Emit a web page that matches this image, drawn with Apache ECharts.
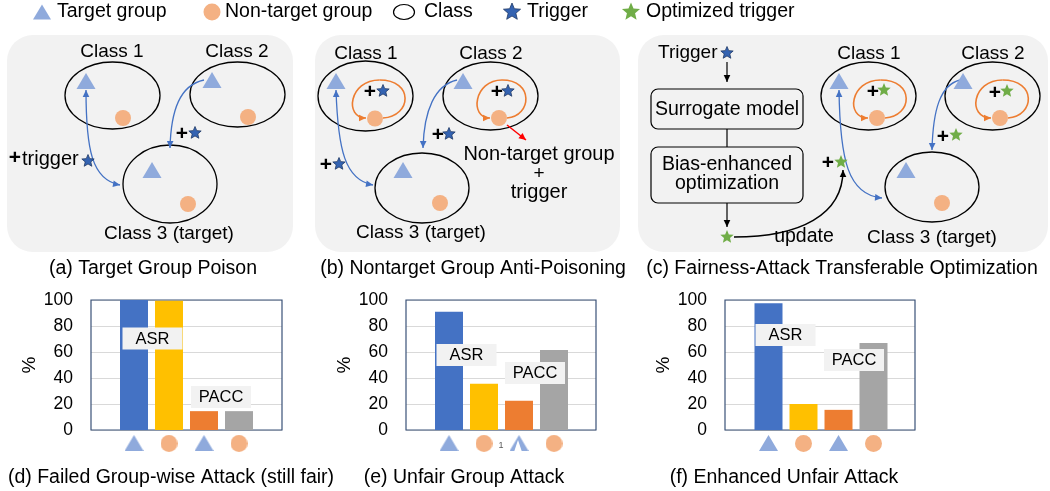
<!DOCTYPE html>
<html><head><meta charset="utf-8">
<script src="https://cdn.jsdelivr.net/npm/echarts@6/dist/echarts.min.js"></script>
<style>html,body{margin:0;padding:0;background:#fff}#c{width:1050px;height:491px}</style>
</head><body><div id="c"></div>
<script>
// ---------------- data ----------------
const categories = ['Target group ASR', 'Non-target group ASR', 'Target group PACC', 'Non-target group PACC'];
const categoryMarkers = ['triangle', 'circle', 'triangle', 'circle'];
const failedValues = [100, 99.5, 14.5, 14.5];     // (d)
const unfairValues = [91, 35.5, 22.5, 61.5];      // (e)
const enhancedValues = [97.5, 20, 15.5, 67];      // (f)
const yMin = 0, yMax = 100, yStep = 20;
const chartTitles = ['(d) Failed Group-wise Attack (still fair)', '(e) Unfair Group Attack', '(f) Enhanced Unfair Attack'];
const panelTitles = ['(a) Target Group Poison', '(b) Nontarget Group Anti-Poisoning', '(c) Fairness-Attack Transferable Optimization'];
const legendLabels = ['Target group', 'Non-target group', 'Class', 'Trigger', 'Optimized trigger'];
const groupLabels = ['ASR', 'PACC'];

// ---------------- styles ----------------
const FONT = '"Liberation Sans", Arial, sans-serif';
const barColors = ['#4472C4', '#FFC000', '#ED7D31', '#A5A5A5'];
const TRI = '#8FAADC', CIR = '#F4B183', BLUE = '#4472C4', ORANGE = '#ED7D31';
const STAR_B = '#3463B2', STAR_B_STROKE = '#1F3864', STAR_G = '#70AD47';

const G = [];
function txt(x, y, s, o = {}) {
  G.push({ type: 'text', x, y, z: o.z || 20, style: { text: s, fill: o.color || '#000', fontSize: o.size || 19,
    fontFamily: FONT, fontWeight: o.weight || 'normal', align: o.align || 'center', verticalAlign: 'middle' } });
}
function ell(cx, cy, rx, ry, lw = 1.3) {
  G.push({ type: 'ellipse', z: 10, shape: { cx, cy, rx, ry }, style: { fill: 'none', stroke: '#000', lineWidth: lw } });
}
function tri(cx, cy, w = 19, h = 16, color = TRI, z = 12) {
  G.push({ type: 'polygon', z, shape: { points: [[cx, cy - h / 2], [cx + w / 2, cy + h / 2], [cx - w / 2, cy + h / 2]] }, style: { fill: color } });
}
function dot(cx, cy, r = 8, color = CIR) {
  G.push({ type: 'circle', z: 12, shape: { cx, cy, r }, style: { fill: color } });
}
function star(cx, cy, R, fill, stroke) {
  const pts = [];
  for (let i = 0; i < 10; i++) {
    const r = i % 2 === 0 ? R : R * 0.45;
    const a = -Math.PI / 2 + i * Math.PI / 5;
    pts.push([cx + r * Math.cos(a), cy + r * Math.sin(a)]);
  }
  G.push({ type: 'polygon', z: 14, shape: { points: pts }, style: { fill, stroke: stroke || null, lineWidth: stroke ? 0.8 : 0 } });
}
function head(x, y, fx, fy, color, len = 7, wid = 3.3) {
  const a = Math.atan2(y - fy, x - fx);
  const bx = x - len * Math.cos(a), by = y - len * Math.sin(a);
  const px = -Math.sin(a) * wid, py = Math.cos(a) * wid;
  G.push({ type: 'polygon', z: 13, shape: { points: [[x, y], [bx + px, by + py], [bx - px, by - py]] }, style: { fill: color } });
}
function curve(x1, y1, c1x, c1y, c2x, c2y, x2, y2, color, lw = 1.3, heads = 'end') {
  G.push({ type: 'bezierCurve', z: 11, shape: { x1, y1, cpx1: c1x, cpy1: c1y, cpx2: c2x, cpy2: c2y, x2, y2 },
    style: { fill: 'none', stroke: color, lineWidth: lw } });
  if (heads === 'end' || heads === 'both') head(x2, y2, c2x, c2y, color);
  if (heads === 'start' || heads === 'both') head(x1, y1, c1x, c1y, color);
}
function line(x1, y1, x2, y2, color = '#000', lw = 1.3, arrow = false) {
  G.push({ type: 'line', z: 11, shape: { x1, y1, x2, y2 }, style: { stroke: color, lineWidth: lw } });
  if (arrow) head(x2, y2, x1, y1, color, 7, 3.3);
}
function loop(circleX, left, right, top = 80, y = 118) {
  const mid = (left + right) / 2;
  curve(circleX + 8, y, right + 5, y - 2, right + 7, top, mid, top, ORANGE, 1.6, 'none');
  curve(mid, top, left - 3, top, left - 8, y, circleX - 9, y, ORANGE, 1.6, 'end');
}
function plusStar(px, py, sx, sy, green) {
  txt(px, py, '+', { size: 21, weight: 'bold' });
  if (green) star(sx, sy, 7, STAR_G); else star(sx, sy, 6.5, STAR_B, STAR_B_STROKE);
}
function panel(x, y, w, h) {
  G.push({ type: 'rect', z: 1, shape: { x, y, width: w, height: h, r: 26 }, style: { fill: '#F2F2F2' } });
}

// ---------------- legend ----------------
tri(42, 12, 18, 15);
txt(57, 12, legendLabels[0], { align: 'left', size: 19.5 });
dot(212, 12, 8.5);
txt(225, 12, legendLabels[1], { align: 'left', size: 19.5 });
ell(404, 12, 10.5, 7.5, 1.2);
txt(424, 12, legendLabels[2], { align: 'left', size: 19.5 });
star(512, 12, 9, STAR_B, STAR_B_STROKE);
txt(527, 12, legendLabels[3], { align: 'left', size: 19.5 });
star(631, 12, 9.5, STAR_G);
txt(646, 12, legendLabels[4], { align: 'left', size: 19.5 });

// ---------------- panel (a) ----------------
panel(7, 35, 286, 217);
txt(112, 52, 'Class 1'); txt(237, 52, 'Class 2'); txt(169, 234, 'Class 3 (target)');
ell(112.5, 95.5, 47.5, 33.5); ell(237.5, 94.5, 47.5, 32.5); ell(170, 184, 47, 39);
tri(86, 81); tri(212, 80); tri(152, 170);
dot(123, 118); dot(248, 117); dot(188, 204);
curve(86, 90, 86, 150, 92, 180, 120, 185, BLUE, 1.3, 'both');
curve(204, 80, 180, 85, 171, 110, 170, 148, BLUE, 1.3, 'end');
txt(15, 158, '+', { size: 21, weight: 'bold' });
txt(22, 159, 'trigger', { align: 'left', size: 20 });
star(88, 161, 6.5, STAR_B, STAR_B_STROKE);
plusStar(182, 134, 195, 133, false);

// ---------------- panel (b) ----------------
panel(315, 35, 305, 217);
txt(366, 54, 'Class 1'); txt(491, 54, 'Class 2'); txt(421, 233, 'Class 3 (target)');
ell(365.5, 96, 47.5, 35); ell(490.5, 96, 47.5, 34); ell(422, 188, 47, 35);
tri(336, 81); tri(463, 81); tri(403, 170);
dot(375, 118.5); dot(499, 118); dot(440, 203);
loop(375, 352, 407); loop(499, 477, 527);
plusStar(370, 92, 383, 91, false); plusStar(497, 92, 508, 91, false);
line(507, 125, 526, 140, '#FF0000', 1.5, true);
txt(539, 154, 'Non-target group', { size: 20 }); txt(539, 174, '+'); txt(539, 192, 'trigger', { size: 20 });
curve(336, 90, 338, 150, 345, 180, 373, 185, BLUE, 1.3, 'both');
curve(457, 80, 435, 85, 424, 110, 423, 148, BLUE, 1.3, 'end');
plusStar(326, 165, 339, 164, false); plusStar(438, 135, 449, 134, false);

// ---------------- panel (c) ----------------
panel(638, 35, 410, 217);
txt(658, 53, 'Trigger', { align: 'left' }); star(727, 53, 6.5, STAR_B, STAR_B_STROKE);
line(727, 62, 727, 82, '#000', 1.2, true);
G.push({ type: 'rect', z: 10, shape: { x: 651, y: 89, width: 152, height: 40, r: 7 }, style: { fill: 'none', stroke: '#000', lineWidth: 1.2 } });
txt(727, 110, 'Surrogate model', { size: 19.5 });
line(727, 129, 727, 147, '#000', 1.2);
G.push({ type: 'rect', z: 10, shape: { x: 651, y: 147, width: 152, height: 56, r: 7 }, style: { fill: 'none', stroke: '#000', lineWidth: 1.2 } });
txt(727, 165, 'Bias-enhanced', { size: 19.5 }); txt(727, 184, 'optimization', { size: 19.5 });
line(727, 203, 727, 227, '#000', 1.2, true);
star(727, 237, 7, STAR_G);
curve(734, 237, 800, 237, 843, 215, 843, 170, '#000', 1.5, 'end');
txt(804, 237, 'update', { size: 19.5 });
plusStar(828, 163, 841, 162, true);
txt(869, 54, 'Class 1'); txt(993, 54, 'Class 2'); txt(932, 238, 'Class 3 (target)');
ell(868.5, 96, 47.5, 34); ell(992.5, 96, 47.5, 34); ell(932, 187, 47, 35);
tri(839, 81); tri(963, 81); tri(906, 170);
dot(877, 118); dot(1000, 118); dot(942, 203);
loop(877, 853, 908); loop(1000, 975, 1030);
plusStar(873, 92, 884, 90, true); plusStar(995, 93, 1007, 91, true);
curve(839, 90, 840, 160, 848, 195, 882, 198, BLUE, 1.3, 'both');
curve(960, 80, 940, 85, 933, 110, 932, 150, BLUE, 1.3, 'end');
plusStar(943, 137, 956, 135, true);

// ---------------- titles ----------------
txt(153, 269, panelTitles[0], { size: 19.5 });
txt(473, 269, panelTitles[1], { size: 19.5 });
txt(842, 269, panelTitles[2], { size: 19.5 });
txt(171, 478, chartTitles[0], { size: 19.5 });
txt(464, 478, chartTitles[1], { size: 19.5 });
txt(784, 478, chartTitles[2], { size: 19.5 });

// ---------------- bar chart annotations ----------------
function tag(cx, cy, s) {
  G.push({ type: 'rect', z: 100, shape: { x: cx - 30, y: cy - 11, width: 60, height: 22 }, style: { fill: '#F2F2F2' } });
  txt(cx, cy + 0.5, s, { size: 16.5, z: 101 });
}
tag(152.5, 338.5, groupLabels[0]); tag(221, 397, groupLabels[1]);
tag(466.5, 355, groupLabels[0]); tag(535, 373, groupLabels[1]);
tag(785.5, 335, groupLabels[0]); tag(854, 360, groupLabels[1]);
// small artefact under chart (e)
txt(501, 446, '1', { size: 9, color: '#595959' });

// ---------------- icons for axis labels ----------------
function makeIcon(kind) {
  const c = document.createElement('canvas');
  if (kind === 'triangle') {
    c.width = 19; c.height = 16;
    const g = c.getContext('2d'); g.fillStyle = TRI;
    g.beginPath(); g.moveTo(9.5, 0); g.lineTo(19, 16); g.lineTo(0, 16); g.closePath(); g.fill();
  } else {
    c.width = 17; c.height = 17;
    const g = c.getContext('2d'); g.fillStyle = CIR;
    g.beginPath(); g.arc(8.5, 8.5, 8.5, 0, Math.PI * 2); g.fill();
  }
  return c;
}
const triIcon = makeIcon('triangle'), cirIcon = makeIcon('circle');

// ---------------- charts ----------------
const seriesValues = [failedValues, unfairValues, enhancedValues];
const outer = [{ left: 91, width: 191 }, { left: 406, width: 190 }, { left: 725, width: 190 }];
const inner = [{ left: 116.5 }, { left: 431.5 }, { left: 751 }];
const grids = [], xAxes = [], yAxes = [], series = [];
outer.forEach((o, i) => {
  grids.push({ left: o.left, top: 300, width: o.width, height: 130, show: true, borderColor: '#3A5278', borderWidth: 1.2, backgroundColor: 'transparent', z: 1 });
  xAxes.push({ gridIndex: i, type: 'value', min: 0, max: 1, show: false });
  yAxes.push({ gridIndex: i, type: 'value', min: yMin, max: yMax, interval: yStep,
    axisLine: { show: false }, axisTick: { show: false },
    axisLabel: { margin: 18, fontSize: 17.5, color: '#000', fontFamily: FONT },
    splitLine: { lineStyle: { color: '#D9D9D9', width: 1 } },
    name: '%', nameLocation: 'middle', nameRotate: 90, nameGap: 52,
    nameTextStyle: { fontSize: 19, color: '#000', fontFamily: FONT } });
});
inner.forEach((o, i) => {
  const gi = 3 + i;
  grids.push({ left: o.left, top: 300, width: 140, height: 130 });
  xAxes.push({ gridIndex: gi, type: 'category', data: categories,
    axisLine: { show: false }, axisTick: { show: false }, splitLine: { show: false },
    axisLabel: { margin: 5, interval: 0,
      formatter: (v, idx) => categoryMarkers[idx] === 'triangle' ? '{tri|}' : '{cir|}',
      rich: { tri: { width: 19, height: 16, backgroundColor: { image: triIcon } },
              cir: { width: 17, height: 17, backgroundColor: { image: cirIcon } } } } });
  yAxes.push({ gridIndex: gi, type: 'value', min: yMin, max: yMax, show: false, splitLine: { show: false } });
  series.push({ type: 'bar', xAxisIndex: gi, yAxisIndex: gi, barWidth: 28, z: 3,
    data: seriesValues[i].map((v, k) => ({ value: v, itemStyle: { color: barColors[k] } })) });
});

// white notch in the third marker of chart (e)
G.push({ type: 'polygon', z: 200, shape: { points: [[518, 440], [522, 452], [514, 452]] }, style: { fill: '#fff' } });

const chart = echarts.init(document.getElementById('c'), null, { renderer: 'canvas' });
chart.setOption({
  animation: false,
  backgroundColor: '#fff',
  textStyle: { fontFamily: FONT },
  grid: grids, xAxis: xAxes, yAxis: yAxes, series,
  graphic: { elements: G }
});
</script></body></html>
